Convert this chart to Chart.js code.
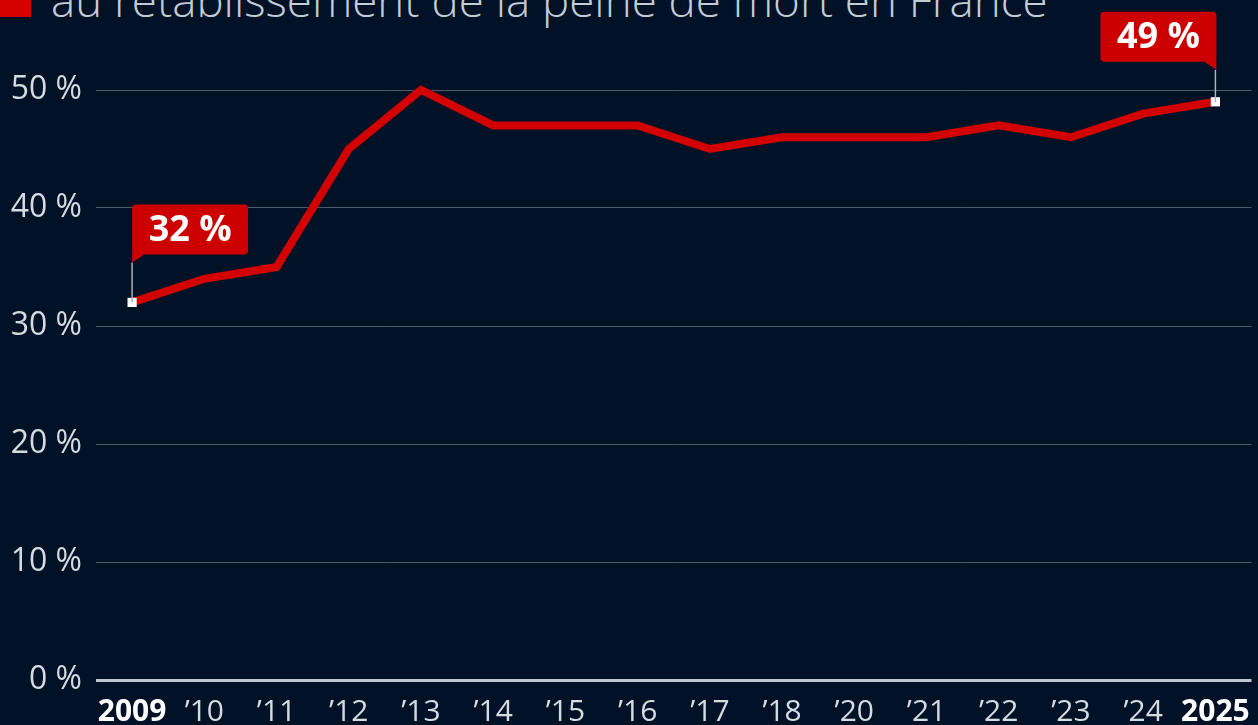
<!DOCTYPE html>
<html lang="fr">
<head>
<meta charset="utf-8">
<script src="https://cdn.jsdelivr.net/npm/chart.js@4.4.1/dist/chart.umd.min.js"></script>
<style>
  html, body { margin: 0; padding: 0; background: #011126; overflow: hidden; }
  #wrap { position: relative; width: 1258px; height: 725px; }
  #square { position: absolute; left: 0; top: 0; width: 31px; height: 17px; background: #d40000; }
  #title {
    position: absolute; left: 51px; top: -23px; white-space: nowrap;
    font-family: "Open Sans", sans-serif; font-size: 45.7px; font-weight: 300;
    color: #c3ccd6; line-height: 1;
  }
  canvas { position: absolute; left: 0; top: 0; }
</style>
</head>
<body>
<div id="wrap">
  <div id="square"></div>
  <div id="title">au rétablissement de la peine de mort en France</div>
  <canvas id="chart" width="1258" height="725"></canvas>
</div>
<script>
const years = ['2009', '’10', '’11', '’12', '’13', '’14', '’15', '’16', '’17', '’18', '’20', '’21', '’22', '’23', '’24', '2025'];
const favorable = [32, 34, 35, 45, 50, 47, 47, 47, 45, 46, 46, 46, 47, 46, 48, 49];
const yTicks = [0, 10, 20, 30, 40, 50];
const calloutIndexes = [0, years.length - 1];

const lastIndex = years.length - 1;

// étiquettes rouges sur le premier et le dernier point
const calloutPlugin = {
  id: 'callouts',
  afterDatasetsDraw(chart) {
    const { ctx, scales } = chart;
    ctx.save();
    calloutIndexes.forEach((i) => {
      const x = scales.x.getPixelForValue(i);
      const y = scales.y.getPixelForValue(favorable[i]);
      const w = 116, h = 50, tail = 8, r = 4;
      const alignLeft = i === 0;
      const left = alignLeft ? x : x + 1 - w;
      const bottom = y - 40 - (alignLeft ? 8 : 0);
      const top = bottom - h;

      // trait vertical
      ctx.strokeStyle = '#aab2bd';
      ctx.lineWidth = 1.5;
      ctx.beginPath();
      ctx.moveTo(x, bottom + tail);
      ctx.lineTo(x, y);
      ctx.stroke();

      ctx.fillStyle = '#cc0000';
      ctx.beginPath();
      ctx.roundRect(left, top, w, h, r);
      ctx.fill();
      ctx.beginPath();
      if (alignLeft) {
        ctx.moveTo(left, bottom - 2);
        ctx.lineTo(left, bottom + tail);
        ctx.lineTo(left + 12, bottom);
      } else {
        ctx.moveTo(left + w, bottom - 2);
        ctx.lineTo(left + w, bottom + tail);
        ctx.lineTo(left + w - 12, bottom);
      }
      ctx.closePath();
      ctx.fill();

      ctx.fillStyle = '#ffffff';
      ctx.font = 'bold 36px "Open Sans", sans-serif';
      ctx.textAlign = 'center';
      ctx.textBaseline = 'middle';
      ctx.fillText(favorable[i] + ' %', left + w / 2, top + h / 2 + 1);
    });
    ctx.restore();
  }
};

new Chart(document.getElementById('chart'), {
  type: 'line',
  data: {
    labels: years,
    datasets: [{
      data: favorable,
      borderColor: '#d20000',
      borderWidth: 8,
      borderJoinStyle: 'miter',
      tension: 0,
      clip: false,
      pointStyle: 'rect',
      pointRadius: (c) => (calloutIndexes.includes(c.dataIndex) ? 6.5 : 0),
      pointBackgroundColor: '#ffffff',
      pointBorderWidth: 0,
      pointHoverRadius: 0
    }]
  },
  plugins: [calloutPlugin],
  options: {
    responsive: false,
    animation: false,
    events: [],
    layout: { padding: { top: 90, right: 5, left: 0, bottom: 0 } },
    plugins: { legend: { display: false }, tooltip: { enabled: false } },
    scales: {
      x: {
        offset: true,
        grid: { display: false },
        border: { display: false },
        afterFit(scale) {
          scale.height = 45;
          scale.paddingLeft = 0;
          scale.paddingRight = 0;
        },
        ticks: {
          padding: 6,
          maxRotation: 0,
          autoSkip: false,
          color: (c) => (c.index === 0 || c.index === lastIndex ? '#ffffff' : '#d5dbe2'),
          font: (c) => ({
            family: '"Open Sans", sans-serif',
            size: 30,
            weight: c.index === 0 || c.index === lastIndex ? 'bold' : 'normal'
          })
        }
      },
      y: {
        min: 0,
        max: 50,
        afterFit(scale) { scale.width = 96; },
        afterBuildTicks(scale) { scale.ticks = yTicks.map((v) => ({ value: v })); },
        border: { display: false },
        grid: {
          drawTicks: false,
          color: (c) => (c.tick && c.tick.value === 0 ? '#c2c7cf' : '#4f5a6a'),
          lineWidth: (c) => (c.tick && c.tick.value === 0 ? 3 : 1)
        },
        ticks: {
          padding: 14,
          color: '#d5dbe2',
          font: { family: '"Open Sans", sans-serif', size: 32 },
          callback: (v) => v + ' %'
        }
      }
    }
  }
});
</script>
</body>
</html>
